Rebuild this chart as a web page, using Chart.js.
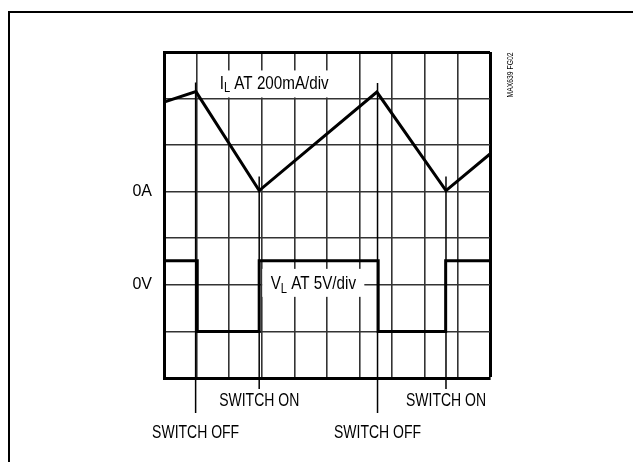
<!DOCTYPE html>
<html>
<head>
<meta charset="utf-8">
<script src="https://cdn.jsdelivr.net/npm/chart.js@4"></script>
<style>
  body { margin: 0; background: #fff; }
  #wrap { width: 633px; height: 462px; position: relative; }
</style>
</head>
<body>
<div id="wrap"><canvas id="myChart"></canvas></div>
<script>
// time is in scope divisions (10 across the screen)
const currentTime = [0, 0.98, 2.92, 6.53, 8.65, 10];
const currentMA = [385, 430, 5, 428, 5, 162];      // I_L at 200mA/div
const voltTime = [0, 1.02, 2.92, 6.57, 8.64, 10];
const voltV = [2.6, -5, 2.6, -5, 2.6, 2.6];          // V_L at 5V/div
const switchTime = [0.97, 2.92, 6.55, 8.65];
const switchLabel = ['SWITCH OFF', 'SWITCH ON', 'SWITCH OFF', 'SWITCH ON'];
const zeroLabelI = '0A';
const zeroLabelV = '0V';

const I_MIN = -800, I_MAX = 600, V_MIN = -10, V_MAX = 25;
// where 0V sits on the current axis (both channels share one graticule)
const vZeroOnI = I_MIN + (0 - V_MIN) / (V_MAX - V_MIN) * (I_MAX - I_MIN);

const FONT = '"Liberation Sans", Arial, sans-serif';
const SQUEEZE = 0.8;   // the scope labels use a condensed face

function narrow(ctx, txt, x, y, size, align) {
  ctx.font = size + 'px ' + FONT;
  const w = ctx.measureText(txt).width * SQUEEZE;
  let sx = x;
  if (align === 'center') sx = x - w / 2;
  ctx.save();
  ctx.translate(sx, y);
  ctx.scale(SQUEEZE, 1);
  ctx.textAlign = 'left';
  ctx.fillText(txt, 0, 0);
  ctx.restore();
  return w;
}

function subText(ctx, main, sub, rest, cx, cy, size) {
  const small = Math.round(size * 0.72);
  ctx.font = size + 'px ' + FONT;
  const w1 = ctx.measureText(main).width * SQUEEZE, w3 = ctx.measureText(rest).width * SQUEEZE;
  ctx.font = small + 'px ' + FONT;
  const w2 = ctx.measureText(sub).width * SQUEEZE;
  let x = cx - (w1 + w2 + w3) / 2;
  ctx.textBaseline = 'middle'; ctx.fillStyle = '#000';
  x += narrow(ctx, main, x, cy, size);
  x += narrow(ctx, sub, x, cy + 5, small);
  narrow(ctx, rest, x, cy, size);
}

const scopeText = {
  id: 'scopeText',
  beforeDraw(chart) {
    const ctx = chart.ctx;
    ctx.save();
    ctx.strokeStyle = '#000'; ctx.lineWidth = 2;
    ctx.beginPath(); ctx.moveTo(9, 462); ctx.lineTo(9, 12); ctx.lineTo(633, 12); ctx.stroke();
    ctx.restore();
  },
  beforeDatasetsDraw(chart) {
    const ctx = chart.ctx, xs = chart.scales.x, yI = chart.scales.yI, yV = chart.scales.yV;
    ctx.save();
    // label boxes hide the graticule
    ctx.fillStyle = '#fff';
    let cx = xs.getPixelForValue(3.38), cy = yI.getPixelForValue(465);
    ctx.fillRect(cx - 57, cy - 13, 114, 27);
    subText(ctx, 'I', 'L', ' AT 200mA/div', cx, cy, 19);
    cx = xs.getPixelForValue(4.58); cy = yV.getPixelForValue(0) - 1;
    ctx.fillStyle = '#fff';
    ctx.fillRect(cx - 51, cy - 15, 102, 28);
    subText(ctx, 'V', 'L', ' AT 5V/div', cx, cy, 19);
    ctx.restore();
  },
  afterDatasetsDraw(chart) {
    const ctx = chart.ctx, xs = chart.scales.x, yI = chart.scales.yI, area = chart.chartArea;
    ctx.save();
    ctx.strokeStyle = '#000'; ctx.lineWidth = 1.5;
    ctx.fillStyle = '#000'; ctx.textBaseline = 'middle';
    switchTime.forEach((t, i) => {
      const x = xs.getPixelForValue(t);
      const off = switchLabel[i] === 'SWITCH OFF';
      const top = yI.getPixelForValue(currentMA[i + 1]) - (off ? 9 : 14);
      const bot = area.bottom + (off ? 35 : 11);
      ctx.beginPath(); ctx.moveTo(x, top); ctx.lineTo(x, bot); ctx.stroke();
      narrow(ctx, switchLabel[i], x, area.bottom + (off ? 55 : 23), 17.5, 'center');
    });
    // figure code, vertical at the right of the screen
    ctx.translate(area.right + 21, area.top + 23);
    ctx.rotate(-Math.PI / 2);
    narrow(ctx, 'MAX639 FG02', 0, 0, 8.5, 'center');
    ctx.restore();
  }
};

const edge = (v, hi, thick, thin) => v === hi ? thick : thin;

const ctx = document.getElementById('myChart');
const chart = new Chart(ctx, {
  type: 'line',
  data: {
    datasets: [{
      label: 'I_L',
      data: currentTime.map((t, i) => ({ x: t, y: currentMA[i] })),
      yAxisID: 'yI',
      borderColor: '#000',
      borderWidth: 3,
      pointRadius: 0,
      tension: 0
    }, {
      label: 'V_L',
      data: voltTime.map((t, i) => ({ x: t, y: voltV[i] })),
      yAxisID: 'yV',
      stepped: 'before',
      borderColor: '#000',
      borderWidth: 3,
      pointRadius: 0
    }]
  },
  options: {
    responsive: true,
    maintainAspectRatio: false,
    animation: false,
    layout: { padding: { left: 124, right: 143, top: 52, bottom: 84 } },
    plugins: { legend: { display: false }, tooltip: { enabled: false } },
    scales: {
      x: {
        type: 'linear', min: 0, max: 10,
        ticks: { display: false, stepSize: 1 },
        grid: {
          color: c => edge(c.tick && c.tick.value, 10, '#000', '#333'),
          lineWidth: c => edge(c.tick && c.tick.value, 10, 3, 1.6),
          drawTicks: false
        },
        border: { color: '#000', width: 3 },
        afterFit: s => { s.height = 0; }
      },
      yI: {
        position: 'left',
        min: I_MIN, max: I_MAX,
        ticks: {
          stepSize: 200, padding: 12, color: '#000',
          font: { family: FONT, size: 16 },
          callback: v => v === 0 ? zeroLabelI : (v === vZeroOnI ? zeroLabelV : '')
        },
        grid: {
          color: c => edge(c.tick && c.tick.value, I_MAX, '#000', '#333'),
          lineWidth: c => edge(c.tick && c.tick.value, I_MAX, 3, 1.6),
          drawTicks: false
        },
        border: { color: '#000', width: 3 },
        afterFit: s => { s.width = 40; }
      },
      yV: {
        display: false,
        min: V_MIN, max: V_MAX
      }
    }
  },
  plugins: [scopeText]
});
</script>
</body>
</html>
